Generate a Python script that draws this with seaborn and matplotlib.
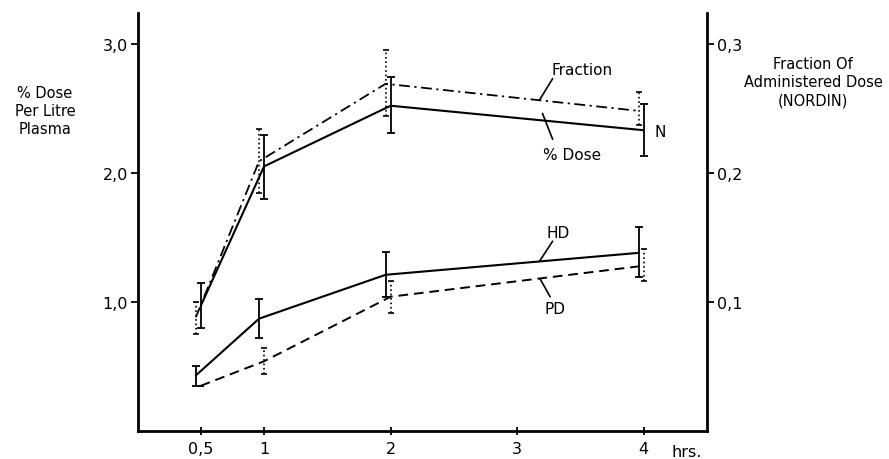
import pandas as pd
import seaborn as sns
import matplotlib.pyplot as plt
from matplotlib.transforms import ScaledTranslation

# data (hours after dose)
times = [0.5, 1, 2, 4]

n_dose = [0.97, 2.05, 2.52, 2.33]
n_dose_lo = [0.80, 1.80, 2.31, 2.13]
n_dose_hi = [1.15, 2.29, 2.74, 2.53]

fraction = [0.088, 0.209, 0.269, 0.248]
fraction_lo = [0.075, 0.184, 0.244, 0.237]
fraction_hi = [0.100, 0.234, 0.295, 0.263]

hd = [0.43, 0.87, 1.21, 1.38]
hd_lo = [0.35, 0.72, 1.04, 1.19]
hd_hi = [0.50, 1.02, 1.39, 1.58]

pd_ = [0.35, 0.54, 1.04, 1.28]
pd_lo = [0.35, 0.44, 0.91, 1.16]
pd_hi = [0.35, 0.64, 1.16, 1.41]

x_ticks = [0.5, 1, 2, 3, 4]
x_labels = ["0,5", "1", "2", "3", "4"]
left_ticks = [1, 2, 3]
left_labels = ["1,0", "2,0", "3,0"]
right_ticks = [0.1, 0.2, 0.3]
right_labels = ["0,1", "0,2", "0,3"]

sns.set_style("ticks")
plt.rcParams["font.family"] = ["DejaVu Sans"]
for k in ("text.color", "axes.labelcolor", "xtick.color", "ytick.color", "axes.edgecolor"):
    plt.rcParams[k] = "black"

df = pd.DataFrame({"t": times, "n": n_dose, "frac": fraction, "hd": hd, "pd": pd_})

fig = plt.figure(figsize=(8.89, 4.6), dpi=100)
ax = fig.add_axes([0.1547, 0.061, 0.6406, 0.909])
ax2 = ax.twinx()

shift = ScaledTranslation(-5 / 100, 0, fig.dpi_scale_trans)


def err(vals, lo, hi):
    return [[v - l for v, l in zip(vals, lo)], [h - v for v, h in zip(vals, hi)]]


# N, % dose (solid)
sns.lineplot(data=df, x="t", y="n", ax=ax, color="black", lw=1.5)
ax.errorbar(times, n_dose, yerr=err(n_dose, n_dose_lo, n_dose_hi), fmt="none",
            ecolor="black", elinewidth=1.3, capsize=3, capthick=1.3)

# HD (solid, slightly shifted left as in the original)
sns.lineplot(data=df, x="t", y="hd", ax=ax, color="black", lw=1.5)
ax.lines[-1].set_transform(ax.transData + shift)
ax.errorbar(times, hd, yerr=err(hd, hd_lo, hd_hi), fmt="none", ecolor="black",
            elinewidth=1.3, capsize=3, capthick=1.3, transform=ax.transData + shift)

# PD (dashed)
sns.lineplot(data=df, x="t", y="pd", ax=ax, color="black", lw=1.4)
ax.lines[-1].set_linestyle((0, (5, 3)))
eb = ax.errorbar(times, pd_, yerr=err(pd_, pd_lo, pd_hi), fmt="none", ecolor="black",
                 elinewidth=1.2, capsize=2.5, capthick=1.2)
eb[2][0].set_linestyle(":")

# fraction of administered dose (dash-dot, right axis)
sns.lineplot(data=df, x="t", y="frac", ax=ax2, color="black", lw=1.3)
ax2.lines[-1].set_linestyle((0, (6, 2.5, 1.2, 2.5)))
ax2.lines[-1].set_transform(ax2.transData + shift)
eb = ax2.errorbar(times, fraction, yerr=err(fraction, fraction_lo, fraction_hi), fmt="none",
                  ecolor="black", elinewidth=1.2, capsize=2.5, capthick=1.2,
                  transform=ax2.transData + shift)
eb[2][0].set_linestyle(":")

ax.set_xlim(0, 4.5)
ax.set_ylim(0, 3.24)
ax2.set_ylim(0, 0.324)

ax.set_xticks(x_ticks)
ax.set_xticklabels(x_labels)
ax.set_yticks(left_ticks)
ax.set_yticklabels(left_labels)
ax2.set_yticks(right_ticks)
ax2.set_yticklabels(right_labels)
ax.set_xlabel("")
ax.set_ylabel("")
ax2.set_ylabel("")

for a in (ax, ax2):
    a.spines["top"].set_visible(False)
    for s in a.spines.values():
        s.set_linewidth(2)
        s.set_color("black")
ax.spines["right"].set_visible(False)
ax2.spines["left"].set_visible(False)
ax2.spines["bottom"].set_visible(False)

ax.tick_params(axis="x", direction="inout", length=6, width=1.3, labelsize=11.5, pad=4)
ax.tick_params(axis="y", direction="out", length=5, width=1.3, labelsize=11.5, pad=2)
ax2.tick_params(axis="y", direction="out", length=5, width=1.3, labelsize=11.5, pad=2)

ax.text(4.22, -0.1, "hrs.", fontsize=11.5, va="top", ha="left", transform=ax.transData)

# curve labels with leader strokes
lead = dict(arrowstyle="-", color="black", lw=1.2, shrinkA=0, shrinkB=0)
ax.annotate("Fraction", xy=(3.18, 2.57), xytext=(3.51, 2.80), fontsize=11,
            ha="center", va="center")
ax.annotate("", xy=(3.18, 2.57), xytext=(3.28, 2.73), arrowprops=lead)
ax.annotate("% Dose", xy=(3.20, 2.46), xytext=(3.43, 2.14), fontsize=11,
            ha="center", va="center")
ax.annotate("", xy=(3.20, 2.46), xytext=(3.28, 2.26), arrowprops=lead)
ax.text(4.13, 2.32, "N", fontsize=11, ha="center", va="center")
ax.text(3.32, 1.54, "HD", fontsize=11, ha="center", va="center")
ax.annotate("", xy=(3.18, 1.32), xytext=(3.28, 1.47), arrowprops=lead)
ax.text(3.30, 0.95, "PD", fontsize=11, ha="center", va="center")
ax.annotate("", xy=(3.18, 1.18), xytext=(3.26, 1.04), arrowprops=lead)

fig.text(45 / 889, 1 - 111 / 460, "% Dose\nPer Litre\nPlasma", fontsize=10.5,
         ha="center", va="center", linespacing=1.25)
fig.text(813 / 889, 1 - 83 / 460, "Fraction Of\nAdministered Dose\n(NORDIN)", fontsize=10.5,
         ha="center", va="center", linespacing=1.25)

fig.savefig("out.png", dpi=100)
